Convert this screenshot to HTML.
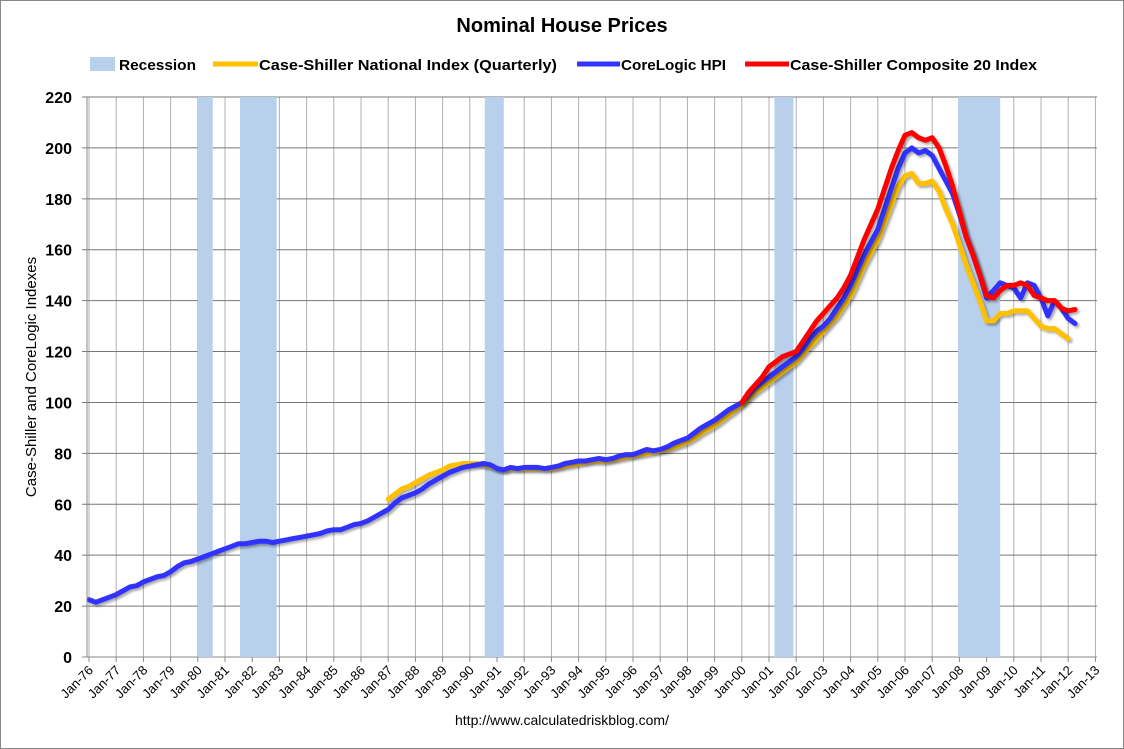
<!DOCTYPE html>
<html><head><meta charset="utf-8"><style>
body{margin:0;background:#fff;}
svg{display:block;font-family:"Liberation Sans",Arial,sans-serif;}
</style></head><body>
<svg id="chart" width="1124" height="749" viewBox="0 0 1124 749">
<defs><filter id="sh" x="-5%" y="-5%" width="110%" height="110%"><feDropShadow dx="2" dy="2" stdDeviation="1.2" flood-color="#000" flood-opacity="0.35"/></filter></defs>
<rect x="0.5" y="0.5" width="1123" height="748" fill="#fff" stroke="#888"/>
<text x="562" y="32" text-anchor="middle" font-size="20" font-weight="bold">Nominal House Prices</text>
<g id="legend">
<rect x="90" y="57" width="25" height="14" fill="#b8d0ec"/>
<text x="119" y="70" font-size="15" font-weight="bold" textLength="77" lengthAdjust="spacingAndGlyphs">Recession</text>
<line x1="213" y1="64" x2="258" y2="64" stroke="#ffc000" stroke-width="5"/>
<text x="259" y="70" font-size="15" font-weight="bold" textLength="298" lengthAdjust="spacingAndGlyphs">Case-Shiller National Index (Quarterly)</text>
<line x1="577" y1="64" x2="620" y2="64" stroke="#3333ff" stroke-width="5"/>
<text x="621" y="70" font-size="15" font-weight="bold" textLength="105" lengthAdjust="spacingAndGlyphs">CoreLogic HPI</text>
<line x1="745" y1="64" x2="789" y2="64" stroke="#ff0000" stroke-width="5"/>
<text x="790" y="70" font-size="15" font-weight="bold" textLength="247" lengthAdjust="spacingAndGlyphs">Case-Shiller Composite 20 Index</text>
</g>
<g id="grid"></g><g id="rec"></g><g id="series"></g><g id="axes"></g>
<text transform="translate(36,377) rotate(-90)" text-anchor="middle" font-size="15">Case-Shiller and CoreLogic Indexes</text>
<text x="562" y="725" text-anchor="middle" font-size="14">http://www.calculatedriskblog.com/</text>
</svg>
<script>
const yTicks=[0,20,40,60,80,100,120,140,160,180,200,220];
const xYears=[76,77,78,79,80,81,82,83,84,85,86,87,88,89,90,91,92,93,94,95,96,97,98,99,0,1,2,3,4,5,6,7,8,9,10,11,12,13];
const recessions=[[1980.0,1980.55],[1981.55,1982.9],[1990.55,1991.25],[2001.2,2001.9],[2007.95,2009.5]];
const coreLogic=[22.5,21.5,22.5,23.5,24.5,26,27.5,28,29.5,30.5,31.5,32,33.5,35.5,37,37.5,38.5,39.5,40.5,41.5,42.5,43.5,44.5,44.5,45,45.5,45.5,45,45.5,46,46.5,47,47.5,48,48.5,49.5,50,50,51,52,52.5,53.5,55,56.5,58,60.5,62.5,63.5,64.5,66,68,69.5,71,72.5,73.5,74.5,75,75.5,76,75.5,74,73.5,74.5,74,74.5,74.5,74.5,74,74.5,75,76,76.5,77,77,77.5,78,77.5,78,79,79.5,79.5,80.5,81.5,81,81.5,82.5,84,85,86,88,90,91.5,93,95,97,98.5,100,103,106,108,110,112,114,116,118,121,125,128,130,133,137,141,146,152,158,163,168,176,184,192,198,200,198,199,197,192,187,182,174,165,158,150,141,144,147,146,145,141,147,146,141,134,140,137,133,131];
const csNational=[62,64,66,67,68.5,70,71.5,72.5,73.5,75,75.5,76,76,76,75.5,75,74,73.5,74,74,74,74,74,74,74,74.5,75,75.5,76,76.5,77,77,77,77.5,78,78.5,79,79.5,80,80.5,81,81.5,82.5,83.5,84.5,86,88,89.5,91,93,95,97,99,101.5,104,106,108,110,112,114,116,119,122,125,128,131,134,138,142,148,154,159,164,171,178,185,189,190,186,186,187,183,176,170,162,154,147,140,132,132,135,135,136,136,136,133,130,129,129,127,125];
const cs20=[100,104,107,110,114,116,118,119,120,124,128,132,135,138,141,145,150,157,164,170,176,184,192,199,205,206,204,203,204,200,193,185,175,165,158,150,142,141,144,146,146,147,146,142,141,140,140,137,136,136.5];
const X0=89,PXY=27.2,Y0=657,PXV=560/220,L=87,R=1097;
const xs=t=>X0+(t-1976)*PXY, ys=v=>Y0-v*PXV;
const NS='http://www.w3.org/2000/svg';
function mk(tag,attrs,parent){const e=document.createElementNS(NS,tag);for(const k in attrs)e.setAttribute(k,attrs[k]);parent.appendChild(e);return e;}
const grid=document.getElementById('grid'),axes=document.getElementById('axes'),rec=document.getElementById('rec'),ser=document.getElementById('series');
xYears.forEach((yy,i)=>{const x=xs(1976+i);
 const g=mk('line',{x1:x,y1:97,x2:x,y2:657,stroke:'#b0b0b0','stroke-width':1},grid);
 
 
 const tk=mk('line',{x1:x,y1:657,x2:x,y2:662,stroke:'#888'},axes);
 
 
 const t=mk('text',{transform:`translate(${x+5},${671}) rotate(-45)`,'text-anchor':'end','font-size':13},axes);
 t.textContent='Jan-'+String(yy).padStart(2,'0');
 
 
});
yTicks.forEach(v=>{const y=ys(v);
 const g=mk('line',{x1:L-5,y1:y,x2:R,y2:y,stroke:v===0?'#888':'#777','stroke-width':1},grid);
 
 
 const t=mk('text',{x:72,y:y+6,'text-anchor':'end','font-size':16,'font-weight':'bold'},axes);
 t.textContent=v;
 
 
});
const ax=mk('line',{x1:L,y1:97,x2:L,y2:657,stroke:'#888'},axes);


recessions.forEach(r=>{const e=mk('rect',{x:xs(r[0]),y:97,width:xs(r[1])-xs(r[0]),height:560,fill:'#b8d0ec'},rec);
 
 });
function line(vals,start,color,name){
 const pts=vals.map((v,i)=>xs(start+i/4).toFixed(1)+','+ys(v).toFixed(1)).join(' ');
 const p=mk('polyline',{points:pts,fill:'none',stroke:color,'stroke-width':5,'stroke-linejoin':'round','stroke-linecap':'round',filter:'url(#sh)'},ser);
 
 
}
line(csNational,1987,'#ffc000','cs-national-line');
line(coreLogic,1976,'#3333ff','corelogic-line');
line(cs20,2000,'#ff0000','cs20-line');
</script>
</body></html>
